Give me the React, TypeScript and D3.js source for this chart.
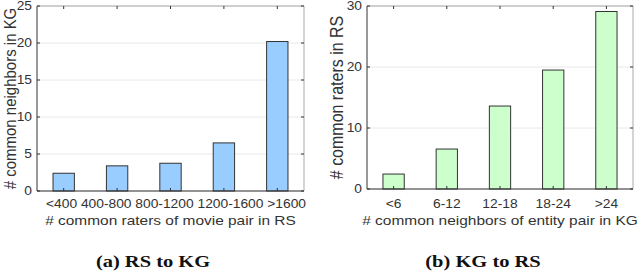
import * as d3 from 'd3';

// (a) RS to KG
const catsA = ['<400', '400-800', '800-1200', '1200-1600', '>1600'];
const valsA = [2.4, 3.4, 3.75, 6.5, 20.2];
const ticksA = [0, 5, 10, 15, 20, 25];

// (b) KG to RS
const catsB = ['<6', '6-12', '12-18', '18-24', '>24'];
const valsB = [2.45, 6.55, 13.6, 19.5, 29.1];
const ticksB = [0, 10, 20, 30];

const FONT = '"Liberation Sans", Arial, sans-serif';
const SERIF = '"Liberation Serif", "DejaVu Serif", serif';

// text stretched horizontally, the reference figure is a bit wider than tall
function T({ x, y, sx = 1.15, size = 12, anchor = 'middle', dy = null, children }) {
  return (
    <text transform={`translate(${x},${y}) scale(${sx},1)`} dy={dy} textAnchor={anchor}
      fontSize={size} fontFamily={FONT} fill="#333">
      {children}
    </text>
  );
}

function Panel({ cats, vals, ticks, yMax, left, right, top, bottom, color, yLabel, xLabel, caption,
  yLabelX, yLabelSize, capX, joined }) {
  const x = d3.scaleLinear().domain([0.5, cats.length + 0.5]).range([left, right]);
  const y = d3.scaleLinear().domain([0, yMax]).range([bottom, top]);
  const bw = (x(1) - x(0)) * 0.4;
  const cx = (left + right) / 2;
  const cy = (top + bottom) / 2;

  return (
    <g>
      {/* grid */}
      {ticks.map(t => (
        <line key={'g' + t} x1={left} x2={right} y1={y(t)} y2={y(t)} stroke="#e8e8e8" strokeWidth={1} />
      ))}
      {/* bars */}
      {vals.map((v, i) => (
        <rect key={i} x={x(i + 1) - bw / 2} y={y(v)} width={bw} height={y(0) - y(v)}
          fill={color} stroke="#333" strokeWidth={1} />
      ))}
      {/* box */}
      <line x1={left} x2={right} y1={top} y2={top} stroke="#aaa" />
      <line x1={right} x2={right} y1={top} y2={bottom} stroke="#aaa" />
      <line x1={left} x2={left} y1={top} y2={bottom} stroke="#333" />
      <line x1={left} x2={right} y1={bottom} y2={bottom} stroke="#333" />
      {/* y ticks */}
      {ticks.map(t => (
        <g key={'t' + t}>
          <line x1={left} x2={left + 3} y1={y(t)} y2={y(t)} stroke="#333" />
          <line x1={right} x2={right - 3} y1={y(t)} y2={y(t)} stroke="#333" />
          <T x={left - 5} y={y(t)} dy="0.36em" anchor="end">{t}</T>
        </g>
      ))}
      {/* x ticks */}
      {cats.map((c, i) => (
        <g key={c}>
          <line x1={x(i + 1)} x2={x(i + 1)} y1={bottom} y2={bottom - 3} stroke="#333" />
          <line x1={x(i + 1)} x2={x(i + 1)} y1={top} y2={top + 3} stroke="#333" />
          {!joined && <T x={x(i + 1)} y={208}>{c}</T>}
        </g>
      ))}
      {/* long labels in (a) run together as one line, as in the source */}
      {joined && <T x={cx + 5.5} y={208}>{cats.join(' ')}</T>}
      <T x={cx} y={225} size={13} sx={1.19}>{xLabel}</T>
      <text transform={`translate(${yLabelX},${cy}) scale(1.1,1) rotate(-90)`} textAnchor="middle"
        fontSize={yLabelSize} fontFamily={FONT} fill="#333">{yLabel}</text>
      <text transform={`translate(${capX},267) scale(1.28,1)`} textAnchor="middle" fontSize={16}
        fontWeight="bold" fontFamily={SERIF} fill="#111">{caption}</text>
    </g>
  );
}

export default function App() {
  return (
    <svg width={640} height={274} style={{ position: 'absolute', left: 0, top: 0, background: '#fff' }}>
      <Panel cats={catsA} vals={valsA} ticks={ticksA} yMax={25} left={37} right={304} top={6} bottom={191}
        color="#99ccff" yLabel="# common neighbors in KG" xLabel="# common raters of movie pair in RS"
        caption="(a) RS to KG" yLabelX={15.5} yLabelSize={15} capX={153} joined />
      <Panel cats={catsB} vals={valsB} ticks={ticksB} yMax={30} left={367} right={633} top={6} bottom={189}
        color="#ccffcc" yLabel="# common raters in RS" xLabel="# common neighbors of entity pair in KG"
        caption="(b) KG to RS" yLabelX={343} yLabelSize={16} capX={483} />
    </svg>
  );
}
